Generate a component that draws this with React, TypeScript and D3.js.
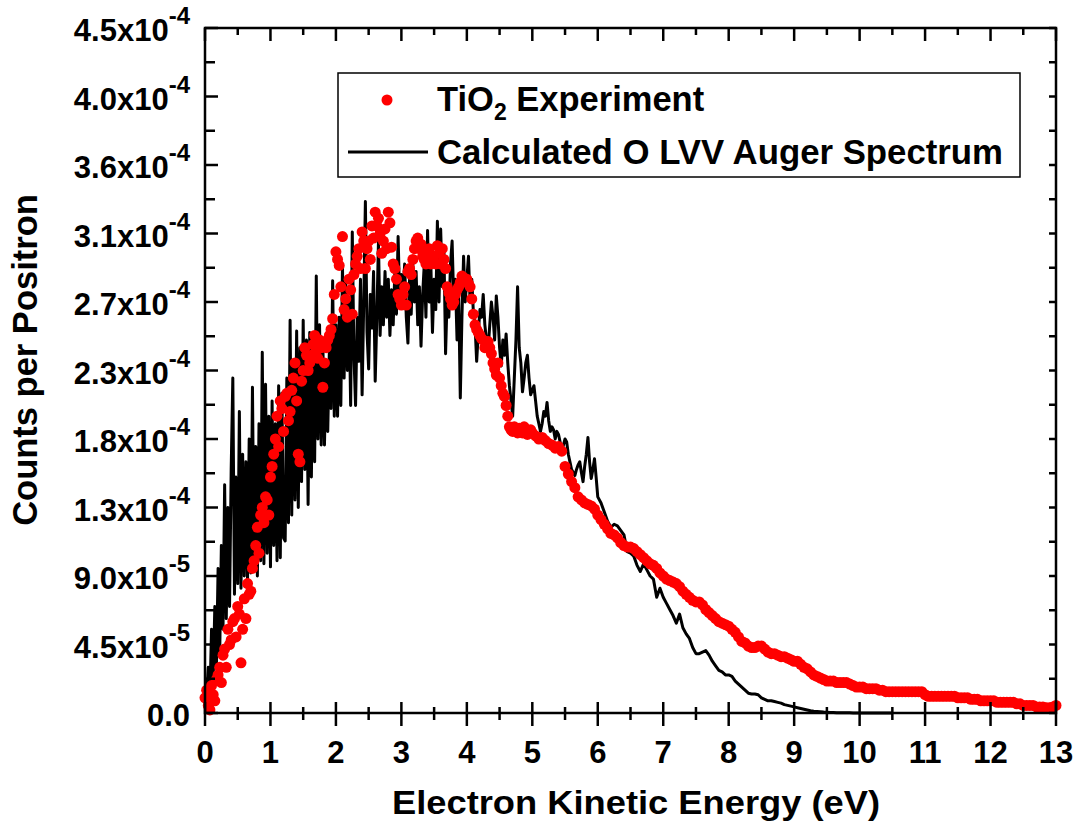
import React, { useEffect, useRef } from "react";
import * as d3 from "d3";

// values are in units of 1e-4 counts per positron

// calculated O LVV Auger spectrum, dense part (0.025 .. 6.0 eV, step 0.025)
const calcDenseStart = 0.025;
const calcDenseStep = 0.025;
const calcDense = [
  0.12, 0.3, 0.1, 0.55, 0.22, 0.7, 0.3, 0.95, 0.4, 1.1, 0.55, 1.5,
  0.62, 1.35, 0.7, 1.6, 2.2, 0.78, 1.55, 0.85, 1.98, 0.82, 1.7, 0.9,
  1.65, 0.88, 1.8, 0.92, 2.14, 0.95, 1.75, 0.9, 1.9, 1.0, 2.37, 0.98,
  2.16, 1.05, 1.95, 0.96, 2.05, 1.1, 1.9, 1.0, 2.15, 1.02, 2.1, 1.15,
  1.13, 2.2, 1.25, 2.58, 1.3, 2.3, 1.4, 2.51, 1.35, 2.4, 1.52, 2.58,
  1.6, 2.45, 1.37, 2.5, 1.55, 2.4, 1.65, 2.87, 1.8, 2.55, 1.76, 2.45,
  1.76, 2.3, 1.85, 2.39, 2.0, 2.84, 1.95, 2.55, 1.95, 2.6, 2.02, 2.94,
  2.2, 2.83, 2.25, 2.7, 2.02, 3.16, 2.35, 2.02, 2.6, 2.31, 2.85, 2.09,
  2.7, 3.36, 2.5, 2.26, 2.75, 2.53, 2.9, 2.18, 2.6, 3.1, 2.48, 2.8,
  2.55, 2.9, 2.6, 2.85, 2.48, 2.78, 2.55, 2.9, 2.62, 3.13, 2.7, 2.88,
  2.75, 2.95, 2.6, 2.43, 2.85, 2.62, 2.95, 2.7, 2.9, 2.55, 2.8, 2.41,
  2.75, 2.95, 2.6, 3.17, 2.7, 2.95, 2.5, 2.85, 2.65, 3.23, 2.7, 3.18,
  2.8, 3.05, 2.36, 2.75, 2.6, 2.95, 3.1, 2.7, 2.85, 2.45, 2.75, 2.07,
  2.6, 3.0, 2.7, 2.85, 3.0, 2.7, 2.85, 2.63, 2.55, 2.31, 2.5, 2.65,
  2.6, 2.75, 2.55, 2.45, 2.39, 2.55, 2.7, 2.6, 2.45, 2.74, 2.6, 2.4,
  2.28, 2.45, 2.35, 2.49, 2.3, 2.15, 2.05, 1.95, 2.2, 2.45, 2.8, 2.4,
  2.3, 2.11, 2.2, 2.3, 2.35, 2.2, 2.09, 2.12, 2.15, 2.05, 1.95, 1.9,
  1.85, 1.9, 1.98, 1.95, 2.04, 1.92, 1.85, 1.88, 1.86, 1.8, 1.85, 1.83,
  1.78, 1.72, 1.76, 1.8, 1.78, 1.7, 1.65, 1.6, 1.58, 1.56, 1.6, 1.63,
  1.65, 1.58, 1.52, 1.62, 1.7, 1.81, 1.65, 1.54, 1.6, 1.67, 1.55, 1.42,
];

// calculated spectrum, tail (6.05 .. 10.5 eV, step 0.05)
const calcTailStart = 6.05;
const calcTailStep = 0.05;
const calcTail = [
  1.38, 1.32, 1.26, 1.22, 1.24, 1.23, 1.2, 1.17, 1.06, 1.05,
  1.03, 0.97, 0.93, 0.98, 0.94, 0.9, 0.88, 0.76, 0.82, 0.76,
  0.72, 0.68, 0.64, 0.59, 0.65, 0.56, 0.52, 0.49, 0.43, 0.39,
  0.39, 0.4, 0.41, 0.38, 0.34, 0.31, 0.28, 0.27, 0.25, 0.25,
  0.24, 0.21, 0.19, 0.17, 0.15, 0.13, 0.125, 0.125, 0.12, 0.1,
  0.09, 0.08, 0.08, 0.075, 0.07, 0.065, 0.055, 0.05, 0.045, 0.04,
  0.035, 0.03, 0.025, 0.02, 0.015, 0.012, 0.01, 0.008, 0.006, 0.005,
  0.004, 0.003, 0.002, 0.002, 0.001, 0.001, 0.001, 0, 0, 0,
  0, 0, 0, 0, 0, 0, 0, 0, 0, 0,
];

// TiO2 experiment (0 .. 13 eV, step 0.05)
const expStart = 0;
const expStep = 0.05;
const expValues = [
  0.1, 0.05, 0.18, 0.08, 0.25, 0.2, 0.42, 0.55, 0.48, 0.62,
  0.7, 0.33, 0.75, 0.85, 0.8, 1.0, 1.22, 1.3, 1.25, 1.4,
  1.55, 1.7, 1.95, 2.05, 1.85, 2.1, 1.98, 2.2, 2.05, 1.65,
  2.25, 2.35, 2.3, 2.42, 2.38, 2.45, 2.14, 2.4, 2.48, 2.59,
  3.03, 2.94, 3.13, 2.72, 2.85, 2.62, 2.95, 3.05, 3.16, 2.92,
  3.1, 3.2, 3.29, 3.25, 3.02, 3.18, 3.29, 3.06, 2.92, 2.75,
  2.68, 2.8, 2.9, 2.88, 3.05, 3.12, 3.08, 2.98, 3.02, 2.95,
  3.0, 3.07, 2.95, 2.98, 2.8, 2.72, 2.7, 2.78, 2.83, 2.86,
  2.85, 2.8, 2.62, 2.52, 2.48, 2.45, 2.42, 2.4, 2.3, 2.22,
  2.2, 2.1, 2.02, 1.88, 1.85, 1.86, 1.87, 1.84, 1.86, 1.85,
  1.84, 1.82, 1.8, 1.81, 1.79, 1.77, 1.76, 1.74, 1.75, 1.72,
  1.62, 1.57, 1.52, 1.48, 1.42, 1.4, 1.38, 1.37, 1.36, 1.34,
  1.3, 1.27, 1.24, 1.21, 1.18, 1.17, 1.15, 1.12, 1.1, 1.09,
  1.09, 1.08, 1.06, 1.04, 1.02, 1.0, 0.98, 0.97, 0.95, 0.92,
  0.9, 0.88, 0.87, 0.86, 0.85, 0.83, 0.8, 0.78, 0.76, 0.74,
  0.73, 0.73, 0.71, 0.68, 0.66, 0.64, 0.62, 0.6, 0.59, 0.58,
  0.57, 0.55, 0.53, 0.5, 0.47, 0.46, 0.44, 0.43, 0.43, 0.44,
  0.44, 0.42, 0.4, 0.39, 0.39, 0.38, 0.37, 0.37, 0.36, 0.35,
  0.34, 0.34, 0.32, 0.3, 0.29, 0.27, 0.25, 0.24, 0.23, 0.22,
  0.21, 0.21, 0.21, 0.2, 0.2, 0.2, 0.2, 0.19, 0.18, 0.17,
  0.17, 0.17, 0.16, 0.16, 0.16, 0.16, 0.15, 0.15, 0.14, 0.14,
  0.14, 0.14, 0.14, 0.14, 0.14, 0.14, 0.14, 0.14, 0.14, 0.14,
  0.12, 0.11, 0.11, 0.11, 0.11, 0.11, 0.11, 0.11, 0.11, 0.11,
  0.1, 0.1, 0.1, 0.1, 0.09, 0.09, 0.09, 0.08, 0.08, 0.08,
  0.08, 0.08, 0.07, 0.07, 0.07, 0.07, 0.07, 0.07, 0.06, 0.06,
  0.05, 0.05, 0.05, 0.05, 0.04, 0.04, 0.04, 0.035, 0.035, 0.04,
  0.05,
];

// TiO2 experiment, interleaved points in the noisy region (0.025 .. 4.975 eV, step 0.05)
const expMidStart = 0.025;
const expMidStep = 0.05;
const expMidValues = [
  0.15, 0.02, 0.12, 0.22, 0.3, 0.38, 0.3, 0.45, 0.6, 0.5,
  0.65, 0.55, 0.62, 0.78, 0.95, 1.1, 1.05, 1.35, 1.42, 1.3,
  1.62, 1.8, 1.75, 2.0, 2.08, 1.92, 2.12, 2.3, 1.7, 2.18,
  2.4, 2.25, 2.35, 2.48, 2.33, 2.4, 2.3, 2.45, 2.52, 2.75,
  2.98, 2.8, 2.65, 2.6, 2.78, 2.88, 3.0, 2.92, 3.1, 3.05,
  2.98, 3.12, 3.2, 3.15, 3.1, 3.05, 3.22, 2.95, 2.85, 2.72,
  2.75, 2.68, 2.92, 2.98, 3.1, 3.05, 3.0, 2.95, 3.05, 2.98,
  2.95, 3.02, 3.05, 2.92, 2.76, 2.68, 2.75, 2.8, 2.87, 2.84,
  2.82, 2.72, 2.55, 2.5, 2.46, 2.4, 2.44, 2.36, 2.26, 2.3,
  2.15, 2.08, 1.95, 1.86, 1.88, 1.84, 1.86, 1.88, 1.83, 1.86,
];

const xTicks = [0, 1, 2, 3, 4, 5, 6, 7, 8, 9, 10, 11, 12, 13];
const yTicks = [0, 0.45, 0.9, 1.35, 1.8, 2.25, 2.7, 3.15, 3.6, 4.05, 4.5];
const yTickMantissa = ["0.0", "4.5", "9.0", "1.3", "1.8", "2.3", "2.7", "3.1", "3.6", "4.0", "4.5"];
const yTickExponent = ["", "-5", "-5", "-4", "-4", "-4", "-4", "-4", "-4", "-4", "-4"];

const FONT = "'Liberation Sans', Arial, sans-serif";

export default function App() {
  const ref = useRef<SVGSVGElement | null>(null);

  useEffect(() => {
    if (!ref.current) return;
    const svg = d3.select(ref.current);
    svg.selectAll("*").remove();

    const left = 205, right = 1056, top = 28, bottom = 713;
    const x = d3.scaleLinear().domain([0, 13]).range([left, right]);
    const y = d3.scaleLinear().domain([0, 4.5]).range([bottom, top]);

    type Pt = [number, number];
    const calcPts: Pt[] = [
      ...calcDense.map((v, i) => [calcDenseStart + i * calcDenseStep, v] as Pt),
      ...calcTail.map((v, i) => [calcTailStart + i * calcTailStep, v] as Pt),
    ];
    const expPts: Pt[] = [
      ...expValues.map((v, i) => [expStart + i * expStep, v] as Pt),
      ...expMidValues.map((v, i) => [expMidStart + i * expMidStep, v] as Pt),
    ];

    const line = d3
      .line<Pt>()
      .x((d) => x(d[0]))
      .y((d) => y(d[1]));

    svg
      .append("path")
      .datum(calcPts)
      .attr("fill", "none")
      .attr("stroke", "#000")
      .attr("stroke-width", 3)
      .attr("stroke-linejoin", "round")
      .attr("d", line);

    svg
      .append("g")
      .selectAll("circle")
      .data(expPts)
      .join("circle")
      .attr("cx", (d) => x(d[0]))
      .attr("cy", (d) => y(d[1]))
      .attr("r", 5.5)
      .attr("fill", "#ff0000");

    // frame
    svg
      .append("rect")
      .attr("x", left)
      .attr("y", top)
      .attr("width", right - left)
      .attr("height", bottom - top)
      .attr("fill", "none")
      .attr("stroke", "#000")
      .attr("stroke-width", 2.5);

    const ticks = svg.append("g").attr("stroke", "#000").attr("stroke-width", 2.5);
    const xMinor = d3.range(0.5, 13, 1);
    // bottom: crossing ticks
    ticks.selectAll(".bx").data(xTicks).join("line")
      .attr("x1", (d) => x(d)).attr("x2", (d) => x(d))
      .attr("y1", bottom - 11).attr("y2", bottom + 13);
    ticks.selectAll(".bxm").data(xMinor).join("line")
      .attr("x1", (d) => x(d)).attr("x2", (d) => x(d))
      .attr("y1", bottom - 6).attr("y2", bottom + 7);
    // top: inward
    ticks.selectAll(".tx").data(xTicks).join("line")
      .attr("x1", (d) => x(d)).attr("x2", (d) => x(d))
      .attr("y1", top).attr("y2", top + 13);
    ticks.selectAll(".txm").data(xMinor).join("line")
      .attr("x1", (d) => x(d)).attr("x2", (d) => x(d))
      .attr("y1", top).attr("y2", top + 7);
    const yMinor = yTicks.slice(0, -1).map((d, i) => (d + yTicks[i + 1]) / 2);
    // left: inward
    ticks.selectAll(".ly").data(yTicks).join("line")
      .attr("x1", left).attr("x2", left + 13)
      .attr("y1", (d) => y(d)).attr("y2", (d) => y(d));
    ticks.selectAll(".lym").data(yMinor).join("line")
      .attr("x1", left).attr("x2", left + 10)
      .attr("y1", (d) => y(d)).attr("y2", (d) => y(d));
    // right: inward
    ticks.selectAll(".ry").data([...yTicks, ...yMinor]).join("line")
      .attr("x1", right - 7).attr("x2", right)
      .attr("y1", (d) => y(d)).attr("y2", (d) => y(d));

    const labels = svg
      .append("g")
      .attr("font-family", FONT)
      .attr("font-weight", "bold")
      .attr("fill", "#000");

    labels.selectAll(".xl").data(xTicks).join("text")
      .attr("x", (d) => x(d))
      .attr("y", 763)
      .attr("text-anchor", "middle")
      .attr("font-size", 31)
      .text((d) => d);

    const yl = labels.selectAll(".yl").data(yTicks).join("text")
      .attr("x", 190)
      .attr("y", (d) => y(d) + 13)
      .attr("text-anchor", "end")
      .attr("font-size", 31);
    yl.append("tspan").text((d, i) => (yTickExponent[i] ? yTickMantissa[i] + "x10" : yTickMantissa[i]));
    yl.filter((d, i) => !!yTickExponent[i])
      .append("tspan")
      .attr("dy", -17)
      .attr("font-size", 24)
      .text((d) => yTickExponent[yTicks.indexOf(d)]);

    labels.append("text")
      .attr("x", 636)
      .attr("y", 814)
      .attr("text-anchor", "middle")
      .attr("font-size", 34)
      .attr("textLength", 488)
      .attr("lengthAdjust", "spacingAndGlyphs")
      .text("Electron Kinetic Energy (eV)");

    labels.append("text")
      .attr("transform", `translate(37,360) rotate(-90)`)
      .attr("text-anchor", "middle")
      .attr("font-size", 34.5)
      .text("Counts per Positron");

    // legend
    const lg = svg.append("g");
    lg.append("rect")
      .attr("x", 338).attr("y", 73).attr("width", 682).attr("height", 104)
      .attr("fill", "#fff").attr("stroke", "#000").attr("stroke-width", 1.5);
    lg.append("circle").attr("cx", 387).attr("cy", 100).attr("r", 5.5).attr("fill", "#ff0000");
    lg.append("line")
      .attr("x1", 348).attr("x2", 428).attr("y1", 152).attr("y2", 152)
      .attr("stroke", "#000").attr("stroke-width", 3);
    const t1 = lg.append("text")
      .attr("x", 437).attr("y", 111)
      .attr("font-family", FONT).attr("font-weight", "bold").attr("font-size", 34.5);
    t1.append("tspan").text("TiO");
    t1.append("tspan").attr("dy", 9).attr("font-size", 23).text("2");
    t1.append("tspan").attr("dy", -9).text(" Experiment");
    lg.append("text")
      .attr("x", 437).attr("y", 164)
      .attr("font-family", FONT).attr("font-weight", "bold").attr("font-size", 34.5)
      .attr("textLength", 566)
      .attr("lengthAdjust", "spacingAndGlyphs")
      .text("Calculated O LVV Auger Spectrum");
  });

  return (
    <svg
      ref={ref}
      width={1078}
      height={833}
      style={{ position: "absolute", left: 0, top: 0, background: "#fff" }}
    />
  );
}
